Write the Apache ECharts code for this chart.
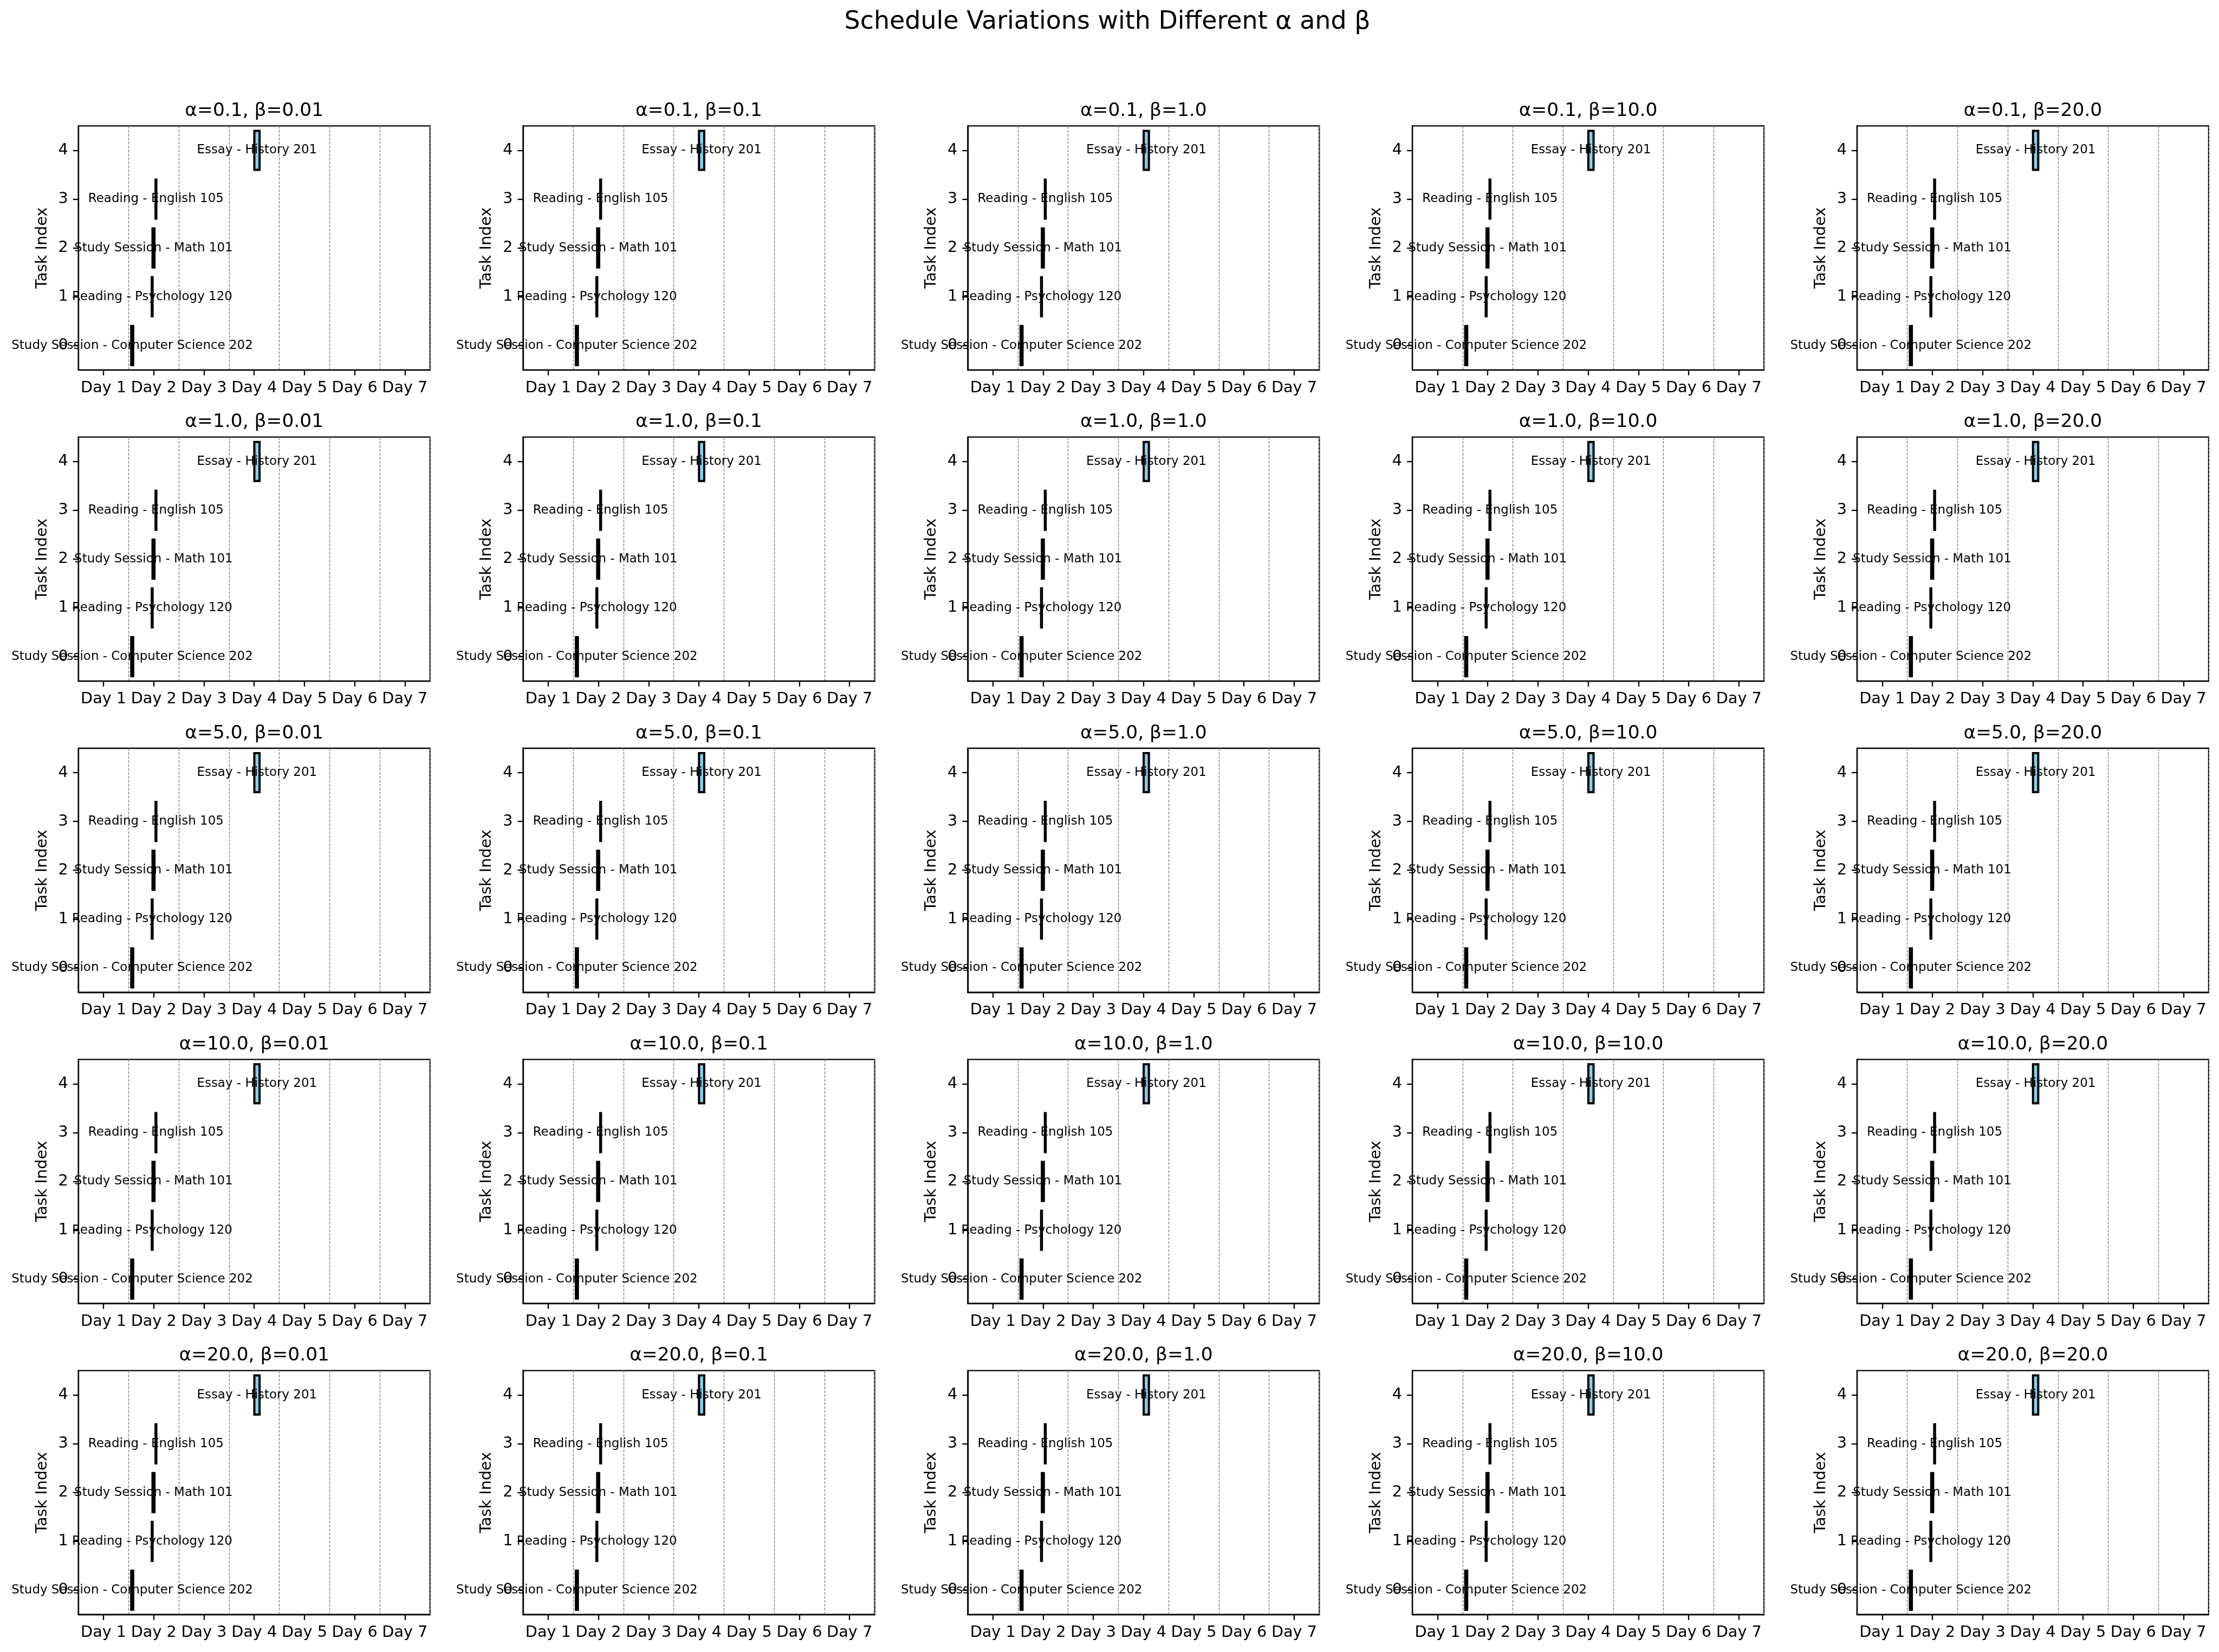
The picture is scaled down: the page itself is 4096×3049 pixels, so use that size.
<!DOCTYPE html>
<html>
<head>
<meta charset="utf-8">
<script src="https://cdn.jsdelivr.net/npm/echarts@6/dist/echarts.min.js"></script>
<style>
  html, body { margin: 0; padding: 0; background: #ffffff; }
  #chart { width: 4096px; height: 3049px; }
</style>
</head>
<body>
<div id="chart"></div>
<script>
// ---- data ----
const alphas = [0.1, 1.0, 5.0, 10.0, 20.0];
const betas = [0.01, 0.1, 1.0, 10.0, 20.0];
const dayLabels = ['Day 1', 'Day 2', 'Day 3', 'Day 4', 'Day 5', 'Day 6', 'Day 7'];
const taskIndexLabels = ['0', '1', '2', '3', '4'];
const taskNames = [
  'Study Session - Computer Science 202',
  'Reading - Psychology 120',
  'Study Session - Math 101',
  'Reading - English 105',
  'Essay - History 201'
];
// start (in days, Day 1 = 0) and duration (days), same schedule in every panel
const taskStart = [0.552, 0.961, 0.976, 1.036, 3.003];
const taskDuration = [0.039, 0.016, 0.039, 0.016, 0.104];
const mainTitle = 'Schedule Variations with Different \u03b1 and \u03b2';
const yAxisTitle = 'Task Index';

// ---- layout / style ----
const FONT = 'DejaVu Sans';
const S = 2.871;                 // px per pt
const tickFont = 10 * S;
const barFont = 8 * S;
const titleFont = 12 * S;
const supFont = 16 * S;
const lw = 0.8 * S;
const gridLeft0 = 144.7, colPitch = 820.8, gridW = 649;
const gridTop0 = 232.4, rowPitch = 574.3, gridH = 450.4;

function pyFloat(v) { return Number.isInteger(v) ? v.toFixed(1) : String(v); }

const chart = echarts.init(document.getElementById('chart'), null, { renderer: 'canvas' });

const grids = [], xAxes = [], yAxes = [], series = [], graphics = [];

graphics.push({
  type: 'text', x: 2044, y: 41, silent: true,
  style: { text: mainTitle, fill: '#000', fontSize: supFont, fontFamily: FONT, align: 'center', verticalAlign: 'middle' }
});

function renderItem(params, api) {
  const start = api.value(0), idx = api.value(1), dur = api.value(2);
  const p0 = api.coord([start, idx]);
  const p1 = api.coord([start + dur, idx]);
  const band = api.size([0, 1])[1];
  const h = band * 0.8;
  return {
    type: 'group',
    children: [
      {
        type: 'rect',
        shape: { x: p0[0], y: p0[1] - h / 2, width: p1[0] - p0[0], height: h },
        style: { fill: '#87CEEB', stroke: '#000000', lineWidth: 4 }
      },
      {
        type: 'text',
        x: (p0[0] + p1[0]) / 2, y: p0[1],
        style: { text: taskNames[params.dataIndex], fill: '#000', fontSize: barFont, fontFamily: FONT, align: 'center', verticalAlign: 'middle' }
      }
    ]
  };
}

let k = 0;
for (let r = 0; r < alphas.length; r++) {
  for (let c = 0; c < betas.length; c++) {
    const left = gridLeft0 + c * colPitch;
    const top = gridTop0 + r * rowPitch;
    grids.push({ left: left, top: top, width: gridW, height: gridH, show: true, borderColor: '#000', borderWidth: lw, backgroundColor: 'transparent', containLabel: false });
    xAxes.push({
      type: 'category', gridIndex: k, data: dayLabels, boundaryGap: true, position: 'bottom',
      axisLine: { show: true, onZero: false, lineStyle: { color: '#000', width: lw } },
      axisTick: { show: true, alignWithLabel: true, length: 10, lineStyle: { color: '#000', width: lw } },
      axisLabel: { show: true, interval: 0, margin: 19, fontSize: tickFont, fontFamily: FONT, color: '#000', hideOverlap: false },
      splitLine: { show: true, interval: 0, lineStyle: { color: '#808080', width: 1.4, type: [5, 2.3] } }
    });
    xAxes.push({ type: 'value', gridIndex: k, min: -0.5, max: 6.5, show: false, splitLine: { show: false } });
    yAxes.push({
      type: 'category', gridIndex: k, data: taskIndexLabels, boundaryGap: true, position: 'left',
      axisLine: { show: true, onZero: false, lineStyle: { color: '#000', width: lw } },
      axisTick: { show: true, alignWithLabel: true, length: 10, lineStyle: { color: '#000', width: lw } },
      axisLabel: { show: true, interval: 0, margin: 19, fontSize: tickFont, fontFamily: FONT, color: '#000' },
      splitLine: { show: false },
      name: yAxisTitle, nameLocation: 'middle', nameGap: 52, nameRotate: 90,
      nameTextStyle: { fontSize: tickFont, fontFamily: FONT, color: '#000' }
    });
    const data = taskStart.map((s, i) => [s, i, taskDuration[i]]);
    series.push({
      type: 'custom', xAxisIndex: 2 * k + 1, yAxisIndex: k, clip: false,
      renderItem: renderItem, data: data, encode: { x: 0, y: 1 }, animation: false
    });
    graphics.push({
      type: 'text', x: left + gridW / 2, y: top - 27.4, silent: true,
      style: { text: '\u03b1=' + pyFloat(alphas[r]) + ', \u03b2=' + pyFloat(betas[c]), fill: '#000', fontSize: titleFont, fontFamily: FONT, align: 'center', verticalAlign: 'middle' }
    });
    k++;
  }
}

chart.setOption({
  backgroundColor: '#ffffff',
  animation: false,
  grid: grids,
  xAxis: xAxes,
  yAxis: yAxes,
  series: series,
  graphic: graphics
});
</script>
</body>
</html>
